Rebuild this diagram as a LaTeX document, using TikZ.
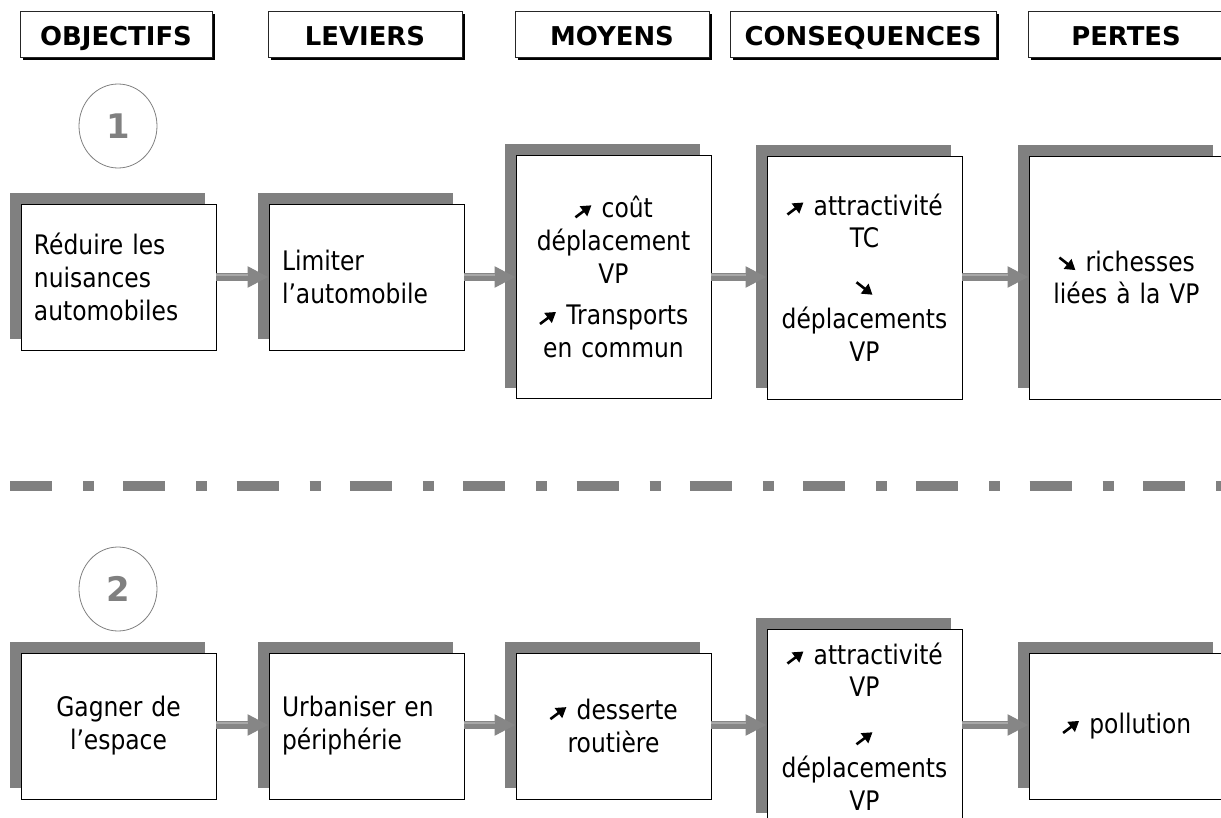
\documentclass[tikz,border=0pt]{standalone}
\usepackage{fontspec}
\setmainfont{DejaVu Sans}[FakeStretch=0.87]
\newfontfamily\hdrfont{DejaVu Sans}
\usetikzlibrary{shadows,arrows.meta,shapes.geometric}
\definecolor{shadowgray}{HTML}{808080}
\definecolor{arrowgray}{HTML}{868686}
\definecolor{arrowlight}{HTML}{A8A8A8}
\newcommand\uparr{\tikz[baseline=0bp,x=1bp,y=1bp]{\draw[black,line width=2.6bp,-{Triangle[length=10bp,width=12bp]}] (0,0.5) -- (16,12.5);}}
\newcommand\dnarr{\tikz[baseline=0bp,x=1bp,y=1bp]{\draw[black,line width=2.6bp,-{Triangle[length=10bp,width=12bp]}] (0,13.5) -- (16,1);}}
\tikzset{
  stepbox/.style={draw=black, line width=0.9bp, fill=white, inner xsep=13bp, inner ysep=0bp,
    text width=169bp, minimum height=146bp,
    general shadow={fill=shadowgray, shadow xshift=-11bp, shadow yshift=11bp},
    font=\fontsize{27}{33}\selectfont},
  tallbox/.style={stepbox, minimum height=243bp},
  hdrbox/.style={draw=black!85, line width=0.9bp, fill=white, minimum height=46bp, inner sep=0pt,
    text height=24bp, text depth=0bp,
    general shadow={fill=black, shadow xshift=3bp, shadow yshift=-3bp},
    font=\hdrfont\bfseries\fontsize{26}{30}\selectfont},
  numcirc/.style={ellipse, draw=shadowgray, line width=0.8bp, minimum width=78bp, minimum height=84bp,
    inner sep=0pt, text=shadowgray, font=\hdrfont\bfseries\fontsize{34}{34}\selectfont},
  conn/.style={line width=8bp, draw=arrowgray, -{Triangle[length=21bp,width=20bp]}},
  connhl/.style={line width=2bp, draw=arrowlight},
  sepline/.style={line width=10.7bp, draw=shadowgray, dash pattern=on 42bp off 31bp on 11bp off 29.3bp}
}
\begin{document}
\begin{tikzpicture}[x=1bp,y=-1bp]
\useasboundingbox[fill=white] (0,0) rectangle (1221,818);

% headers
\node[hdrbox, minimum width=192bp] (h1) at (116,34) {OBJECTIFS};
\node[hdrbox, minimum width=194bp] (h2) at (365,34) {LEVIERS};
\node[hdrbox, minimum width=194bp] (h3) at (612,34) {MOYENS};
\node[hdrbox, minimum width=266bp] (h4) at (863,34) {CONSEQUENCES};
\node[hdrbox, minimum width=196bp] (h5) at (1126,34) {PERTES};

% numbers
\node[numcirc] (n1) at (118,126) {1};
\node[numcirc] (n2) at (118,589) {2};

% row 1
\node[stepbox, align=left] (b1) at (118.5,277) {Réduire les\\nuisances\\automobiles};
\node[stepbox, align=left] (b2) at (366.5,277) {Limiter\\l’automobile};
\node[tallbox, align=center] (b3) at (613.5,277) {\uparr{} coût\\déplacement\\VP\\[8bp]\uparr{} Transports\\en commun};
\node[tallbox, align=center] (b4) at (864.5,277.5) {\uparr{} attractivité\\TC\\[15bp]\dnarr\\déplacements\\VP};
\node[tallbox, align=center] (b5) at (1126.5,277.5) {\dnarr{} richesses\\liées à la VP};

% separator
\coordinate (s1) at (10,486);
\coordinate (s2) at (1240,486);
\draw[sepline] (s1) -- (s2);

% row 2
\node[stepbox, align=center] (c1) at (118.5,726) {Gagner de\\l’espace};
\node[stepbox, align=left] (c2) at (366.5,726) {Urbaniser en\\périphérie};
\node[stepbox, align=center] (c3) at (613.5,726) {\uparr{} desserte\\routière};
\node[stepbox, align=center, minimum height=195bp] (c4) at (864.5,726.5) {\uparr{} attractivité\\VP\\[15bp]\uparr\\déplacements\\VP};
\node[stepbox, align=center] (c5) at (1126.5,726) {\uparr{} pollution};

% connectors
\foreach \a/\b in {b1/b2,b2/b3,b3/b4,b4/b5}{
  \draw[conn] (\a.east |- 0,277) -- (\b.west |- 0,277);
  \draw[connhl] ([yshift=2.5bp]\a.east |- 0,277) -- ([xshift=-21bp,yshift=2.5bp]\b.west |- 0,277);
}
\foreach \a/\b in {c1/c2,c2/c3,c3/c4,c4/c5}{
  \draw[conn] (\a.east |- 0,725) -- (\b.west |- 0,725);
  \draw[connhl] ([yshift=2.5bp]\a.east |- 0,725) -- ([xshift=-21bp,yshift=2.5bp]\b.west |- 0,725);
}
\end{tikzpicture}
\end{document}
